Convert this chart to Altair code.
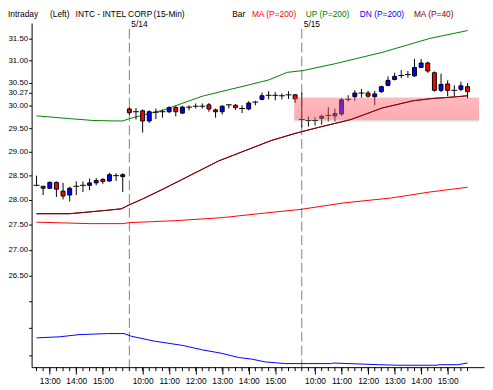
import json
import altair as alt
import pandas as pd

# ---------------- data ----------------
bar_idx = list(range(66))
opens = [28.30, 28.28, 28.24, 28.36, 28.18, 28.10, 28.28, 28.30, 28.30, 28.35, 28.42, 28.39, 28.50, 28.48,
         29.92, 29.86, 29.88, 29.66, 29.85, 29.86, 29.86, 29.95, 29.83, 29.96, 29.98, 29.98, 30.01, 29.90,
         29.86, 30.01, 30.00, 29.93, 29.92, 30.07, 30.13, 30.22, 30.22, 30.21, 30.23, 30.23,
         29.69, 29.67, 29.67, 29.72, 29.78, 29.77, 29.81, 30.13, 30.19, 30.27, 30.27, 30.19, 30.30, 30.44,
         30.57, 30.66, 30.68, 30.65, 30.84, 30.94, 30.72, 30.33, 30.47, 30.33, 30.35, 30.41]
highs = [28.50, 28.28, 28.38, 28.38, 28.35, 28.27, 28.38, 28.38, 28.44, 28.45, 28.45, 28.56, 28.55, 28.55,
         29.96, 29.94, 29.91, 29.89, 29.93, 29.91, 29.98, 29.99, 29.99, 30.00, 30.04, 30.04, 30.05, 29.93,
         30.00, 30.03, 30.03, 30.00, 30.09, 30.10, 30.28, 30.31, 30.29, 30.26, 30.31, 30.25,
         30.28, 29.76, 29.74, 29.80, 29.96, 29.93, 30.16, 30.22, 30.33, 30.36, 30.32, 30.32, 30.43, 30.64,
         30.72, 30.78, 30.76, 31.03, 31.03, 30.97, 30.75, 30.70, 30.55, 30.44, 30.52, 30.49]
lows = [28.28, 28.10, 28.22, 28.06, 28.01, 27.97, 28.10, 28.16, 28.20, 28.30, 28.33, 28.37, 28.39, 28.16,
        29.79, 29.69, 29.41, 29.62, 29.70, 29.73, 29.83, 29.76, 29.81, 29.89, 29.93, 29.93, 29.86, 29.73,
        29.80, 29.93, 29.90, 29.83, 29.89, 30.00, 30.11, 30.13, 30.11, 30.13, 30.14, 30.05,
        29.52, 29.54, 29.56, 29.58, 29.65, 29.65, 29.77, 30.08, 30.10, 30.17, 30.17, 30.00, 30.27, 30.42,
        30.55, 30.60, 30.61, 30.63, 30.83, 30.72, 30.30, 30.29, 30.20, 30.20, 30.31, 30.15]
closes = [28.30, 28.24, 28.36, 28.22, 28.08, 28.24, 28.28, 28.30, 28.35, 28.40, 28.38, 28.52, 28.50, 28.52,
          29.84, 29.86, 29.66, 29.86, 29.85, 29.86, 29.95, 29.86, 29.96, 29.96, 29.98, 29.98, 29.92, 29.86,
          29.98, 30.01, 29.95, 29.93, 30.05, 30.07, 30.21, 30.22, 30.22, 30.21, 30.23, 30.14,
          29.69, 29.67, 29.67, 29.76, 29.78, 29.82, 30.12, 30.13, 30.27, 30.27, 30.20, 30.25, 30.41, 30.55,
          30.64, 30.66, 30.68, 30.84, 30.94, 30.76, 30.33, 30.46, 30.33, 30.33, 30.43, 30.30]

ma200_i = [0, 8, 13, 14, 21, 28, 33.5, 40, 46.4, 53.5, 59.2, 65]
ma200_v = [27.55, 27.52, 27.52, 27.54, 27.58, 27.64, 27.72, 27.81, 27.94, 28.04, 28.16, 28.26]

up_i = [0, 1.7, 5, 8.5, 12, 13, 14, 19.2, 25, 32, 35, 37.8, 40.2, 44.9, 52.1, 59.3, 65]
up_v = [29.77, 29.75, 29.71, 29.67, 29.66, 29.66, 29.71, 29.90, 30.20, 30.45, 30.56, 30.73, 30.77, 30.92,
        31.18, 31.50, 31.68]

dn_i = [0, 3.5, 6.4, 10.7, 13.2, 14.3, 17.8, 22.1, 25, 27.8, 30.5, 32.5, 34.5, 37.5, 44.5, 44.7, 51.7,
        54.5, 60.4, 60.7, 63.5, 65]
dn_v = [25.32, 25.34, 25.38, 25.40, 25.40, 25.35, 25.26, 25.18, 25.10, 25.04, 24.96, 24.93, 24.88, 24.85,
        24.85, 24.86, 24.83, 24.82, 24.82, 24.83, 24.83, 24.86]

ma40_i = [0, 5, 8.3, 10.7, 12.8, 14, 16, 19.2, 27.5, 35.4, 39.2, 42.5, 47.4, 52.1, 56.8, 59.7, 61.7, 63.5, 65]
ma40_v = [27.72, 27.72, 27.76, 27.79, 27.82, 27.90, 28.02, 28.23, 28.81, 29.24, 29.40, 29.52, 29.69, 29.94,
          30.10, 30.15, 30.17, 30.19, 30.21]

day_idx = [14, 40]
day_lab = ["5/14", "5/15"]

hour_idx = [2, 6, 10, 16, 20, 24, 28, 32, 36, 42, 46, 50, 54, 58, 62]
hour_lab = ["13:00", "14:00", "15:00", "10:00", "11:00", "12:00", "13:00", "14:00", "15:00",
            "10:00", "11:00", "12:00", "13:00", "14:00", "15:00"]

y_ticks = [25.0, 25.5, 26.0, 26.5, 27.0, 27.5, 28.0, 28.5, 29.0, 29.5, 30.0, 30.27, 30.5, 31.0, 31.5]

band_x = [38.86, 66.74]
band_y = [30.17, 29.61]

# ---------------- frames ----------------
def direction(o, c):
    if abs(o - c) < 1e-9:
        return "doji"
    return "up" if c > o else "down"

cdf = pd.DataFrame({"i": bar_idx, "open": opens, "high": highs, "low": lows, "close": closes})
cdf["dir"] = [direction(o, c) for o, c in zip(opens, closes)]

lab_map = {str(k): s for k, s in zip(hour_idx, hour_lab)}

FONT = "Liberation Sans"
XDOM = [0, 66.74]
YDOM = [24.785, 31.857]

xs = alt.Scale(domain=XDOM, nice=False, zero=False)
ys = alt.Scale(type="log", domain=YDOM, nice=False, zero=False)

x_axis = alt.Axis(values=hour_idx, labelExpr=json.dumps(lab_map) + "[toString(datum.value)]",
                  tickSize=7, labelPadding=3, labelOverlap=False, labelFlush=False,
                  grid=False, title=None, domainColor="black", tickColor="black",
                  labelColor="black", labelFont=FONT, labelFontSize=8.5)
y_axis = alt.Axis(values=y_ticks,
                  labelExpr="datum.value < 26.4 ? '' : format(datum.value, '.2f')",
                  tickSize=3, labelPadding=1, grid=False, title=None, domainColor="black",
                  tickColor="black", labelColor="black", labelFont=FONT, labelFontSize=8,
                  labelOverlap=False, labelFlush=False)

base = alt.Chart(cdf)

def line_layer(ix, vals, color):
    d = pd.DataFrame({"i": ix, "v": vals})
    return alt.Chart(d).mark_line(color=color, strokeWidth=1, interpolate="linear").encode(
        x=alt.X("i:Q", scale=xs, axis=x_axis), y=alt.Y("v:Q", scale=ys, axis=y_axis))

days = pd.DataFrame({"i": day_idx, "lab": day_lab})
dashed = alt.Chart(days).mark_rule(color="#808080", strokeDash=[10, 4], strokeWidth=1).encode(
    x=alt.X("i:Q", scale=xs, axis=x_axis), y=alt.value(6), y2=alt.value(350))
day_text = alt.Chart(days).mark_text(align="left", baseline="alphabetic", dx=2, font=FONT,
                                     fontSize=8.5, color="black").encode(
    x=alt.X("i:Q", scale=xs, axis=x_axis), y=alt.value(4.5), text="lab:N")

bar_ticks = base.mark_rule(color="black", strokeWidth=1).encode(
    x=alt.X("i:Q", scale=xs, axis=x_axis), y=alt.value(350), y2=alt.value(354))

wicks = base.mark_rule(color="black", strokeWidth=1).encode(
    x=alt.X("i:Q", scale=xs, axis=x_axis), y=alt.Y("low:Q", scale=ys, axis=y_axis), y2="high:Q")
bodies = base.transform_filter("datum.dir != 'doji'").mark_bar(size=4, stroke="black", strokeWidth=1).encode(
    x=alt.X("i:Q", scale=xs, axis=x_axis), y=alt.Y("open:Q", scale=ys, axis=y_axis), y2="close:Q",
    fill=alt.Color("dir:N", scale=alt.Scale(domain=["up", "down"], range=["#0000ff", "#ff0000"]), legend=None))
doji = base.transform_filter("datum.dir == 'doji'").mark_tick(orient="horizontal", size=6, thickness=1,
                                                              color="black", opacity=1).encode(
    x=alt.X("i:Q", scale=xs, axis=x_axis), y=alt.Y("close:Q", scale=ys, axis=y_axis))

band_df = pd.DataFrame({"x0": [band_x[0]], "x1": [band_x[1]], "y0": [band_y[0]], "y1": [band_y[1]]})
grad = alt.LinearGradient(gradient="linear", x1=0, x2=0, y1=0, y2=1, stops=[
    alt.GradientStop(offset=0, color="rgba(255,90,100,0.42)"),
    alt.GradientStop(offset=0.78, color="rgba(255,90,100,0.50)"),
    alt.GradientStop(offset=0.84, color="rgba(170,110,115,0.5)"),
    alt.GradientStop(offset=1, color="rgba(210,210,210,0)")])
band = alt.Chart(band_df).mark_rect(color=grad, clip=True).encode(
    x=alt.X("x0:Q", scale=xs, axis=x_axis), x2="x1:Q", y=alt.Y("y0:Q", scale=ys, axis=y_axis), y2="y1:Q")

def htext(s, x, color):
    return alt.Chart(pd.DataFrame({"t": [s]})).mark_text(
        align="left", baseline="alphabetic", font=FONT, fontSize=8.5, color=color).encode(
        x=alt.value(x), y=alt.value(-6), text="t:N")

header = [
    htext("Intraday", -24, "black"),
    htext("(Left)", 18.7, "black"),
    htext("INTC - INTEL CORP", 44.7, "black"),
    htext("(15-Min)", 124, "black"),
    htext("Bar", 204, "black"),
    htext("MA (P=200)", 224, "#ff0000"),
    htext("UP (P=200)", 278.7, "#008000"),
    htext("DN (P=200)", 333.7, "#0000ff"),
    htext("MA (P=40)", 388.7, "#800000"),
]

chart = alt.layer(
    dashed,
    line_layer(ma200_i, ma200_v, "#ff0000"),
    line_layer(up_i, up_v, "#008000"),
    line_layer(dn_i, dn_v, "#0000ff"),
    line_layer(ma40_i, ma40_v, "#800000"),
    wicks, bodies, doji,
    band,
    line_layer(ma40_i, ma40_v, "#800000"),
    bar_ticks, day_text, *header,
).properties(
    width=460, height=350,
    autosize=alt.AutoSizeParams(type="none"),
    padding={"left": 24, "top": 12, "right": 1, "bottom": 20},
    background="white",
).configure_view(strokeWidth=0).configure_axis(labelOverlap=False)

chart.save("out.html", embed_options={"renderer": "svg", "actions": False})
